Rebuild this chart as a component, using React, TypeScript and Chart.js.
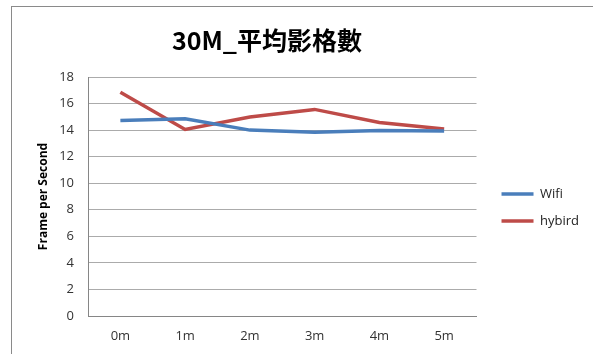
import React, { useEffect, useRef } from "react";
import { Chart, registerables } from "chart.js";

Chart.register(...registerables);

const categories = ["0m", "1m", "2m", "3m", "4m", "5m"];
const wifiValues = [14.73, 14.85, 14.0, 13.83, 13.97, 13.93];
const hybirdValues = [16.85, 14.05, 14.98, 15.56, 14.58, 14.08];
const yTicks = [0, 2, 4, 6, 8, 10, 12, 14, 16, 18];
const titleText = "30M_平均影格數";
const yAxisTitle = "Frame per Second";

const titlePlugin = {
  id: "customTitle",
  afterDraw(chart: any) {
    const ctx = chart.ctx;
    ctx.save();
    ctx.font = 'bold 25px "Noto Sans CJK TC", "Open Sans", sans-serif';
    ctx.fillStyle = "#000000";
    ctx.textAlign = "center";
    ctx.textBaseline = "middle";
    ctx.fillText(titleText, 267, 40);
    ctx.restore();
  },
};

const legendShift = {
  id: "legendShift",
  afterLayout(chart: any) {
    const lg = chart.legend;
    if (!lg) return;
    const dx = 11;
    const dy = -8;
    lg.left += dx;
    lg.right += dx;
    lg.top += dy;
    lg.bottom += dy;
  },
};

export default function App() {
  const ref = useRef<HTMLCanvasElement | null>(null);
  useEffect(() => {
    if (!ref.current) return;
    const chart = new Chart(ref.current, {
      type: "line",
      data: {
        labels: categories,
        datasets: [
          {
            label: "Wifi",
            data: wifiValues,
            borderColor: "#4A7EBB",
            backgroundColor: "#4A7EBB",
            borderWidth: 3.5,
            pointRadius: 0,
            tension: 0,
          },
          {
            label: "hybird",
            data: hybirdValues,
            borderColor: "#BE4B48",
            backgroundColor: "#BE4B48",
            borderWidth: 3.5,
            pointRadius: 0,
            tension: 0,
          },
        ],
      },
      plugins: [titlePlugin, legendShift],
      options: {
        animation: false,
        responsive: false,
        maintainAspectRatio: false,
        layout: { padding: { top: 77, bottom: 0, left: 20, right: 15 } },
        plugins: {
          title: { display: false },
          tooltip: { enabled: false },
          legend: {
            position: "right",
            align: "center",
            labels: {
              usePointStyle: true,
              pointStyle: "line",
              pointStyleWidth: 32,
              boxWidth: 30,
              boxHeight: 4,
              padding: 14,
              color: "#222222",
              font: { family: '"Open Sans", "Noto Sans", sans-serif', size: 13 },
            },
          },
        },
        scales: {
          x: {
            offset: true,
            grid: { display: false, drawTicks: false },
            border: { color: "#868686", width: 1 },
            ticks: {
              color: "#333333",
              padding: 12,
              font: { family: '"Open Sans", "Noto Sans", sans-serif', size: 13 },
            },
            afterFit(scale: any) {
              scale.height = 38;
            },
          },
          y: {
            min: 0,
            max: 18,
            afterBuildTicks(scale: any) {
              scale.ticks = yTicks.map((v) => ({ value: v }));
            },
            grid: { color: "#ABABAB", drawTicks: false, lineWidth: 1 },
            border: { color: "#868686", width: 1 },
            ticks: {
              color: "#333333",
              padding: 14,
              font: { family: '"Open Sans", "Noto Sans", sans-serif', size: 13 },
            },
            title: {
              display: true,
              text: yAxisTitle,
              color: "#000000",
              padding: { top: 16, bottom: 0 },
              font: { family: '"Open Sans", "Noto Sans", sans-serif', size: 12, weight: "bold" },
            },
            afterFit(scale: any) {
              scale.width = 68;
            },
          },
        },
      },
    } as any);
    return () => chart.destroy();
  }, []);

  return (
    <div style={{ position: "fixed", left: 0, top: 0, width: 593, height: 354, background: "#ffffff", overflow: "hidden" }}>
      <div
        style={{
          position: "absolute",
          left: 11,
          top: 6,
          width: 620,
          height: 400,
          border: "1.5px solid #8a8a8a",
          boxSizing: "border-box",
        }}
      />
      <canvas ref={ref} width={593} height={354} style={{ position: "absolute", left: 0, top: 0 }} />
    </div>
  );
}
